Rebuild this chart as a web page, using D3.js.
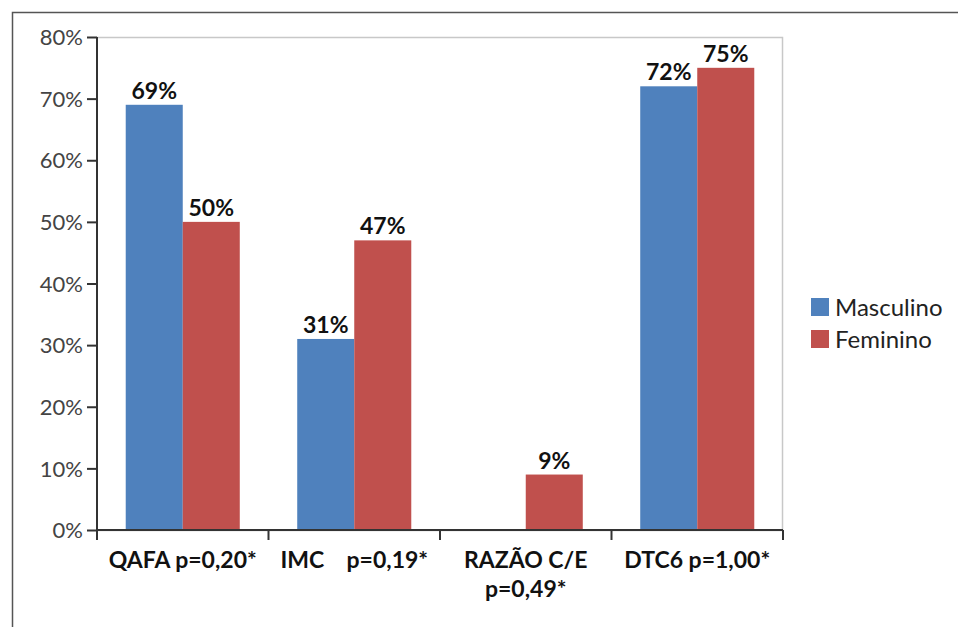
<!DOCTYPE html>
<html><head><meta charset="utf-8">
<script src="https://cdn.jsdelivr.net/npm/d3@7"></script>
<style>body{margin:0;background:#fff}svg{display:block}</style>
</head><body>
<svg id="c" width="958" height="627"></svg>
<script>
const categories = [["QAFA p=0,20*"], ["IMC    p=0,19*"], ["RAZÃO C/E", "p=0,49*"], ["DTC6 p=1,00*"]];
const series = ["Masculino", "Feminino"];
const masculino = [69, 31, null, 72];
const feminino = [50, 47, 9, 75];
const yTicks = [0, 10, 20, 30, 40, 50, 60, 70, 80];
const colors = ["#4F81BD", "#C0504D"];

const svg = d3.select("#c");
const font = "Lato, 'Open Sans', sans-serif";
// outer frame
svg.append("path").attr("d", "M12.5,627 V12.5 H958").attr("fill", "none").attr("stroke", "#555").attr("stroke-width", 1.5);

const m = {l: 97, t: 37, r: 783, b: 530};
const x = d3.scaleBand().domain(d3.range(categories.length)).range([m.l, m.r]).paddingInner(0.335).paddingOuter(0.1675);
const y = d3.scaleLinear().domain([0, 80]).range([m.b, m.t]);
const x1 = d3.scaleBand().domain(series).range([0, x.bandwidth()]);

// plot area border
svg.append("rect").attr("x", m.l).attr("y", m.t + 0.5).attr("width", m.r - m.l - 0.5).attr("height", m.b - m.t)
  .attr("fill", "none").attr("stroke", "#c8c8c8").attr("stroke-width", 1.5);

const data = [masculino, feminino];
series.forEach((s, si) => {
  const g = svg.append("g");
  data[si].forEach((v, i) => {
    if (v == null) return;
    g.append("rect").attr("x", x(i) + x1(s)).attr("y", y(v)).attr("width", x1.bandwidth()).attr("height", y(0) - y(v)).attr("fill", colors[si]);
    g.append("text").attr("x", x(i) + x1(s) + x1.bandwidth() / 2).attr("y", y(v) - 6)
      .attr("text-anchor", "middle").attr("font-family", font).attr("font-weight", "bold").attr("font-size", 23).attr("fill", "#111")
      .text(v + "%");
  });
});

// y axis
const ya = svg.append("g").attr("transform", `translate(${m.l},0)`)
  .call(d3.axisLeft(y).tickValues(yTicks).tickSize(10).tickPadding(4).tickFormat(d => d + "%"));
ya.select(".domain").attr("stroke", "#333").attr("stroke-width", 2).attr("d", `M0,${m.t}V${m.b}`);
ya.selectAll(".tick line").attr("stroke", "#333").attr("stroke-width", 2);
ya.selectAll(".tick text").attr("font-family", font).attr("font-size", 22).attr("fill", "#444").attr("dy", "0.35em");

// x axis
const xa = svg.append("g").attr("transform", `translate(0,${m.b})`);
xa.append("path").attr("d", `M${m.l},0H${m.r}`).attr("stroke", "#333").attr("stroke-width", 2);
d3.range(categories.length + 1).forEach(i => {
  const px = m.l + i * (m.r - m.l) / categories.length;
  xa.append("line").attr("x1", px).attr("x2", px).attr("y1", 0).attr("y2", 10).attr("stroke", "#333").attr("stroke-width", 2);
});
categories.forEach((lines, i) => {
  const cx = x(i) + x.bandwidth() / 2;
  const t = xa.append("text").attr("x", cx).attr("y", 38).attr("text-anchor", "middle")
    .attr("font-family", font).attr("font-weight", "bold").attr("font-size", 23).attr("fill", "#111").attr("xml:space", "preserve");
  lines.forEach((l, li) => t.append("tspan").attr("x", cx).attr("dy", li === 0 ? 0 : 29).text(l));
});

// legend
const lg = svg.append("g").attr("transform", "translate(811,298)");
series.forEach((s, si) => {
  lg.append("rect").attr("x", 0).attr("y", si * 32).attr("width", 18).attr("height", 18).attr("fill", colors[si]);
  lg.append("text").attr("x", 24).attr("y", si * 32 + 18).attr("font-family", font).attr("font-size", 24).attr("fill", "#222").text(s);
});
</script>
</body></html>
